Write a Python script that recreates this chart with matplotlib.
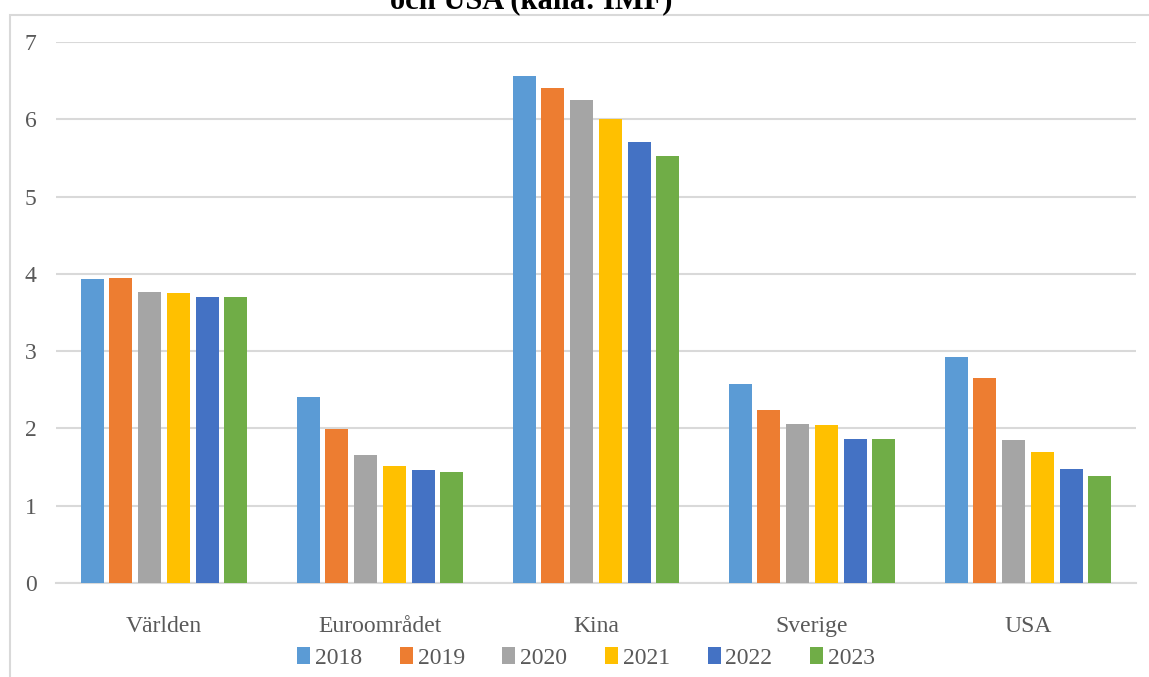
import numpy as np
import matplotlib
matplotlib.use("Agg")
import matplotlib.pyplot as plt
from matplotlib.patches import Rectangle

# data
regions = ['Världen', 'Euroområdet', 'Kina', 'Sverige', 'USA']
years = ['2018', '2019', '2020', '2021', '2022', '2023']
v2018 = [3.93, 2.41, 6.56, 2.57, 2.92]
v2019 = [3.95, 1.99, 6.40, 2.24, 2.65]
v2020 = [3.77, 1.66, 6.25, 2.06, 1.85]
v2021 = [3.75, 1.51, 6.00, 2.04, 1.69]
v2022 = [3.70, 1.46, 5.71, 1.86, 1.47]
v2023 = [3.70, 1.44, 5.52, 1.86, 1.38]
series = [v2018, v2019, v2020, v2021, v2022, v2023]

colors = ['#5B9BD5', '#ED7D31', '#A5A5A5', '#FFC000', '#4472C4', '#70AD47']
grey = '#595959'
line_grey = '#d9d9d9'

plt.rcParams['font.family'] = ['Liberation Serif', 'DejaVu Serif']

W, H = 1149, 677
fig = plt.figure(figsize=(W / 100, H / 100), dpi=100)

# chart frame (cut off at right and bottom)
fig.patches.append(Rectangle((10 / W, -0.05), 1.2, 1 - 15 / H + 0.05,
                             transform=fig.transFigure, fill=False,
                             edgecolor=line_grey, linewidth=1.5))

ax = fig.add_axes([56 / W, 1 - 583 / H, (1136 - 56) / W, (583 - 42) / H])

x = np.arange(len(regions))
step = 0.133
width = 0.107
for i, (vals, year) in enumerate(zip(series, years)):
    ax.bar(x + (i - 2.5) * step, vals, width, color=colors[i], label=year,
           zorder=3)

ax.set_xlim(-0.5, len(regions) - 0.5)
ax.set_ylim(0, 7)
ax.set_yticks(range(0, 8))
ax.set_xticks(x)
ax.set_xticklabels(regions)
ax.tick_params(axis='both', length=0, labelsize=17, colors=grey)
ax.tick_params(axis='y', pad=14)
ax.tick_params(axis='x', pad=24)
ax.grid(axis='y', color=line_grey, linewidth=1.5, zorder=0)
for side in ['top', 'right', 'left']:
    ax.spines[side].set_visible(False)
ax.spines['bottom'].set_color(line_grey)
ax.spines['bottom'].set_linewidth(1.5)

# title, its upper part is cut off in the original
fig.text(531 / W, 1 - 8 / H, 'och USA (källa: IMF)', ha='center',
         va='baseline', fontsize=22, fontweight='bold', color='black')

leg = fig.legend(loc='center', bbox_to_anchor=(586 / W, 1 - 658 / H),
                 ncol=6, frameon=False, fontsize=17, handlelength=0.55,
                 handleheight=0.75, handletextpad=0.2, columnspacing=1.6)
for t in leg.get_texts():
    t.set_color(grey)

fig.savefig('out.png', dpi=100)
